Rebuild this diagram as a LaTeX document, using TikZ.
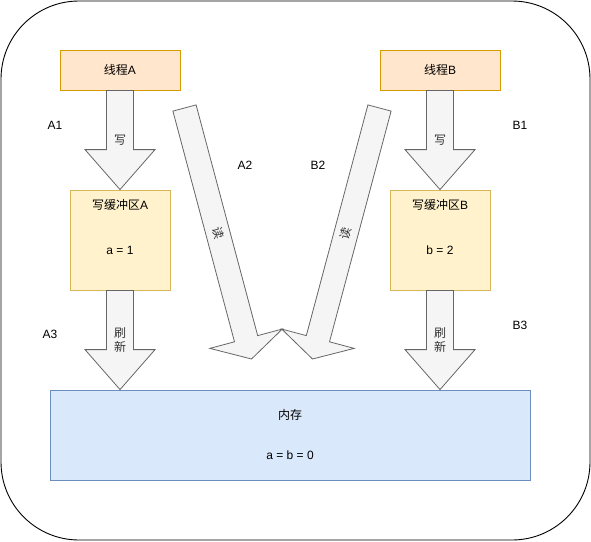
\documentclass[tikz,border=0pt]{standalone}
\usepackage{fontspec}
\setmainfont{Liberation Sans}
\newfontfamily\cjk{Noto Sans CJK SC}
\usepackage{tikz}
\usetikzlibrary{positioning,calc}
\definecolor{thrFill}{HTML}{FFE6CC}
\definecolor{thrLine}{HTML}{D79B00}
\definecolor{bufFill}{HTML}{FFF2CC}
\definecolor{bufLine}{HTML}{D6B656}
\definecolor{memFill}{HTML}{DAE8FC}
\definecolor{memLine}{HTML}{6C8EBF}
\definecolor{arrFill}{HTML}{F5F5F5}
\definecolor{arrLine}{HTML}{666666}
\definecolor{txtGray}{HTML}{333333}
\tikzset{
    every node/.style={font=\fontsize{12}{14}\selectfont},
    threadbox/.style={
        draw=thrLine,
        fill=thrFill,
        line width=0.8pt,
        minimum width=120pt,
        minimum height=40pt
    },
    bufbox/.style={
        draw=bufLine,
        fill=bufFill,
        line width=0.8pt,
        minimum width=100pt,
        minimum height=100pt
    },
    membox/.style={
        draw=memLine,
        fill=memFill,
        line width=0.8pt,
        minimum width=480pt,
        minimum height=90pt,
        align=center
    },
    fatarrow/.style={
        draw=arrLine,
        fill=arrFill,
        line width=0.8pt,
        line join=miter
    },
    arrowtext/.style={text=txtGray, align=center, inner sep=0pt}
}
% block arrow: from, to, shaft half width, head half width, head length
\newcommand{\blockarrow}[5]{%
    \coordinate (hb) at ($(#2)!#5!(#1)$);
    \draw[fatarrow] ($(#1)!#3!90:(#2)$) -- ($(hb)!#3!90:(#2)$) -- ($(hb)!#4!90:(#2)$) -- (#2)
        -- ($(hb)!#4!-90:(#2)$) -- ($(hb)!#3!-90:(#2)$) -- ($(#1)!#3!-90:(#2)$) -- cycle;
}

\begin{document}
\begin{tikzpicture}[x=1pt, y=-1pt]
    \useasboundingbox (0,0) rectangle (591,541);
    \draw[line width=0.9pt, rounded corners=78pt] (1,1) rectangle (590,540);

    % threads and buffers
    \node[threadbox] (thA) at (120,70) {{\cjk 线程}A};
    \node[threadbox] (thB) at (440,70) {{\cjk 线程}B};
    \node[bufbox] (bufA) at (120,240) {};
    \node[bufbox] (bufB) at (440,240) {};
    \node at ($(bufA.north)+(0,15)$) {{\cjk 写缓冲区}A};
    \node at ($(bufA.center)+(0,10)$) {a = 1};
    \node at ($(bufB.north)+(0,15)$) {{\cjk 写缓冲区}B};
    \node at ($(bufB.center)+(0,10)$) {b = 2};

    % main memory
    \node[membox] (mem) at (290,435) {{\cjk 内存}\\[26pt]a = b = 0};
    \coordinate (memA) at (bufA.south |- mem.north);
    \coordinate (memB) at (bufB.south |- mem.north);

    % write and flush
    \blockarrow{thA.south}{bufA.north}{13.5pt}{35pt}{40pt}
    \blockarrow{thB.south}{bufB.north}{13.5pt}{35pt}{40pt}
    \blockarrow{bufA.south}{memA}{13.5pt}{35pt}{40pt}
    \blockarrow{bufB.south}{memB}{13.5pt}{35pt}{40pt}
    \node[arrowtext] at ($(thA.south)!0.5!(bufA.north)$) {\cjk 写};
    \node[arrowtext] at ($(thB.south)!0.5!(bufB.north)$) {\cjk 写};
    \node[arrowtext] at ($(bufA.south)!0.5!(memA)$) {{\cjk 刷}\\{\cjk 新}};
    \node[arrowtext] at ($(bufB.south)!0.5!(memB)$) {{\cjk 刷}\\{\cjk 新}};

    % read
    \coordinate (rdA0) at (184.5,108);
    \coordinate (rdA1) at (251.5,359);
    \coordinate (rdB0) at (379.5,108);
    \coordinate (rdB1) at (312.5,359);
    \blockarrow{rdA0}{rdA1}{12pt}{37.5pt}{21pt}
    \blockarrow{rdB0}{rdB1}{12pt}{37.5pt}{21pt}
    \node[arrowtext, rotate=-75] at ($(rdA0)!0.5!(rdA1)$) {\cjk 读};
    \node[arrowtext, rotate=75] at ($(rdB0)!0.5!(rdB1)$) {\cjk 读};

    % step labels
    \node (lA1) at (55,125) {A1};
    \node (lB1) at (520,125) {B1};
    \node (lA2) at (245,165) {A2};
    \node (lB2) at (318,165) {B2};
    \node (lA3) at (50,334) {A3};
    \node (lB3) at (520,325) {B3};
\end{tikzpicture}
\end{document}
